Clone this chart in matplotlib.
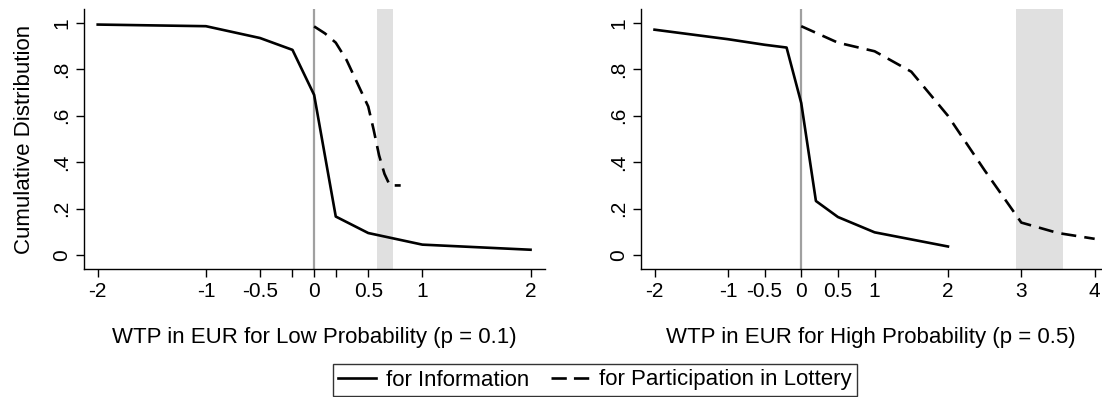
import matplotlib
matplotlib.use("Agg")
import matplotlib.pyplot as plt
from matplotlib.lines import Line2D

plt.rcParams['font.family'] = ['Liberation Sans', 'DejaVu Sans']

# Low probability (p = 0.1)
low_info_x = [-2, -1, -0.5, -0.2, 0, 0.2, 0.5, 1, 2]
low_info_y = [0.993, 0.986, 0.935, 0.884, 0.690, 0.166, 0.095, 0.045, 0.023]
low_lott_x = [0, 0.1, 0.2, 0.3, 0.4, 0.5, 0.55, 0.6, 0.65, 0.7, 0.8]
low_lott_y = [0.985, 0.955, 0.915, 0.840, 0.740, 0.640, 0.540, 0.430, 0.350, 0.300, 0.300]
low_shade = (0.58, 0.73)
low_ticks = [-2, -1, -0.5, -0.2, 0, 0.2, 0.5, 1, 2]
low_ticklabels = ['-2', '-1', '-0.5', '', '0', '', '0.5', '1', '2']

# High probability (p = 0.5)
high_info_x = [-2, -1, -0.5, -0.2, 0, 0.2, 0.5, 1, 2]
high_info_y = [0.971, 0.930, 0.906, 0.894, 0.655, 0.233, 0.164, 0.098, 0.037]
high_lott_x = [0, 0.5, 1, 1.5, 2, 2.5, 3, 3.5, 4]
high_lott_y = [0.986, 0.915, 0.878, 0.790, 0.600, 0.365, 0.140, 0.095, 0.070]
high_shade = (2.93, 3.57)
high_ticks = [-2, -1, -0.5, 0, 0.5, 1, 2, 3, 4]
high_ticklabels = ['-2', '-1', '-0.5', '0', '0.5', '1', '2', '3', '4']

yticks = [0, 0.2, 0.4, 0.6, 0.8, 1]
yticklabels = ['0', '.2', '.4', '.6', '.8', '1']

LW = 1.9
DASH = (5.7, 3.1)
TICK_FS = 15
LABEL_FS = 16


def panel(ax, ix, iy, lx, ly, shade, ticks, labels, xlim, xlabel):
    ax.axvspan(shade[0], shade[1], color='#e0e0e0', lw=0, zorder=0)
    ax.axvline(0, color='#a0a0a0', lw=1.6, zorder=1)
    ax.plot(ix, iy, color='black', lw=LW, zorder=3)
    ax.plot(lx, ly, color='black', lw=LW, dashes=DASH, zorder=3)
    ax.set_xlim(*xlim)
    ax.set_ylim(-0.06, 1.06)
    ax.set_xticks(ticks)
    ax.set_xticklabels(labels)
    ax.set_yticks(yticks)
    ax.set_yticklabels(yticklabels, rotation=90, va='center')
    for s in ['top', 'right']:
        ax.spines[s].set_visible(False)
    for s in ['left', 'bottom']:
        ax.spines[s].set_linewidth(1.0)
    ax.tick_params(direction='out', length=6, width=1.0, labelsize=TICK_FS, pad=3)
    ax.set_xlabel(xlabel, fontsize=LABEL_FS, labelpad=19)


fig = plt.figure(figsize=(11.02, 3.97), dpi=100)
ax1 = fig.add_axes([0.0759, 0.3224, 0.4183, 0.6549])
ax2 = fig.add_axes([0.5813, 0.3224, 0.4187, 0.6549])

panel(ax1, low_info_x, low_info_y, low_lott_x, low_lott_y, low_shade,
      low_ticks, low_ticklabels, (-2.13, 2.13),
      'WTP in EUR for Low Probability (p = 0.1)')
panel(ax2, high_info_x, high_info_y, high_lott_x, high_lott_y, high_shade,
      high_ticks, high_ticklabels, (-2.19, 4.1),
      'WTP in EUR for High Probability (p = 0.5)')
ax1.set_ylabel('Cumulative Distribution', fontsize=LABEL_FS)
ax1.yaxis.set_label_coords(-0.105, 0.5)

# legend with the two line styles
handles = [Line2D([], [], color='black', lw=LW),
           Line2D([], [], color='black', lw=LW, dashes=(5.8, 2.7))]
leg = fig.legend(handles, ['for Information', 'for Participation in Lottery'],
                 loc='center', bbox_to_anchor=(595 / 1102, 1 - 380 / 397), ncol=2,
                 frameon=True, fancybox=False, edgecolor='black',
                 fontsize=16, handlelength=1.7, columnspacing=1.0,
                 handletextpad=0.45, borderpad=0.25, borderaxespad=0)
leg.get_frame().set_linewidth(1.0)

fig.savefig('out.png', dpi=100)
